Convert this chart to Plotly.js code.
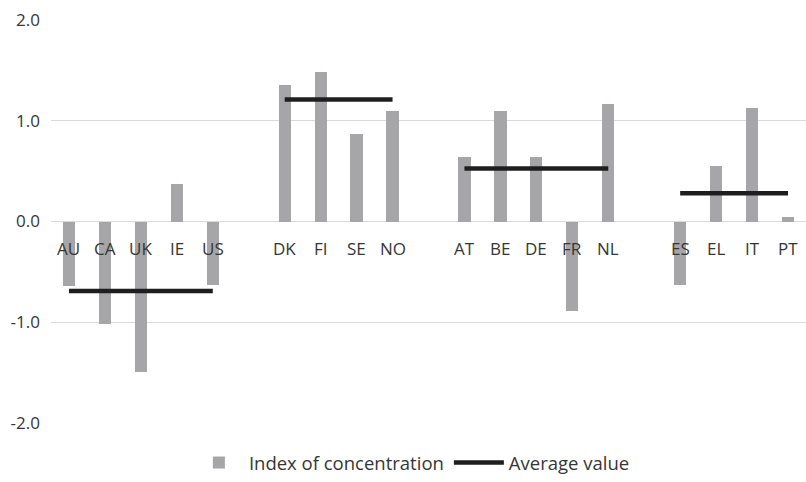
<!DOCTYPE html>
<html>
<head>
<meta charset="utf-8">
<script src="https://cdn.plot.ly/plotly-3.0.1.min.js"></script>
<style>html,body{margin:0;padding:0;background:#fff;}#chart{width:806px;height:482px;}</style>
</head>
<body>
<div id="chart"></div>
<script>
// Country codes, in drawing order
const categories = ['AU','CA','UK','IE','US','DK','FI','SE','NO','AT','BE','DE','FR','NL','ES','EL','IT','PT'];
// Number of countries in each group
const groupSizes = [5, 4, 5, 4];
// Index of concentration per country
const indexValues = [-0.64, -1.02, -1.49, 0.375, -0.63,
                     1.35, 1.48, 0.87, 1.10,
                     0.64, 1.10, 0.64, -0.885, 1.165,
                     -0.63, 0.55, 1.125, 0.04];
// Average value per group
const groupAverages = [-0.69, 1.21, 0.525, 0.28];
// Y-axis ticks
const yTickVals = [-2, -1, 0, 1, 2];
const yTickText = ['-2.0', '-1.0', '0.0', '1.0', '2.0'];

// Positions on the axis: one empty slot between groups
const positions = [];
const groupStartEnd = [];
let idx = 0;
groupSizes.forEach((n, g) => {
  const start = idx + g;
  for (let k = 0; k < n; k++) positions.push(idx + g + k);
  groupStartEnd.push([start, idx + g + n - 1]);
  idx += n;
});
const nSlots = positions[positions.length - 1] + 1;

const txtColor = '#363636';
const fontFam = '"Open Sans", sans-serif';
const fs = 17;

const traces = [{
  type: 'bar',
  x: positions,
  y: indexValues,
  width: 0.34,
  marker: {color: '#a6a6a8'},
  name: 'Index of concentration',
  hoverinfo: 'skip'
}];
groupAverages.forEach((v, g) => {
  traces.push({
    type: 'scatter',
    mode: 'lines',
    x: groupStartEnd[g],
    y: [v, v],
    line: {color: '#1e1e1e', width: 4.5},
    name: 'Average value',
    legendgroup: 'avg',
    showlegend: g === 0,
    hoverinfo: 'skip'
  });
});

const annotations = categories.map((c, i) => ({
  x: positions[i], y: 0, xref: 'x', yref: 'y',
  text: c, showarrow: false, yanchor: 'middle', yshift: -27,
  font: {family: fontFam, size: fs, color: txtColor}
}));

const layout = {
  width: 806, height: 482,
  margin: {l: 51, r: 0, t: 20, b: 55},
  paper_bgcolor: '#fff', plot_bgcolor: '#fff',
  font: {family: fontFam, size: fs, color: txtColor},
  showlegend: true,
  legend: {orientation: 'h', x: 0.478, xanchor: 'center', y: -0.1, yanchor: 'middle',
           font: {family: fontFam, size: 18.5, color: txtColor}, itemwidth: 50, traceorder: 'normal'},
  xaxis: {range: [-0.5, nSlots - 0.5], showticklabels: false, showgrid: false, zeroline: false,
          showline: false, ticks: '', fixedrange: true},
  yaxis: {range: [-2, 2], tickvals: yTickVals, ticktext: yTickText, showgrid: true,
          gridcolor: '#d9d9d9', gridwidth: 1, zeroline: true, zerolinecolor: '#d9d9d9', zerolinewidth: 1,
          showline: false, ticks: '', ticklabelstandoff: 10,
          tickfont: {family: fontFam, size: fs, color: txtColor}},
  annotations: annotations,
  bargap: 0
};

Plotly.newPlot('chart', traces, layout, {displayModeBar: false, staticPlot: true});
</script>
</body>
</html>
